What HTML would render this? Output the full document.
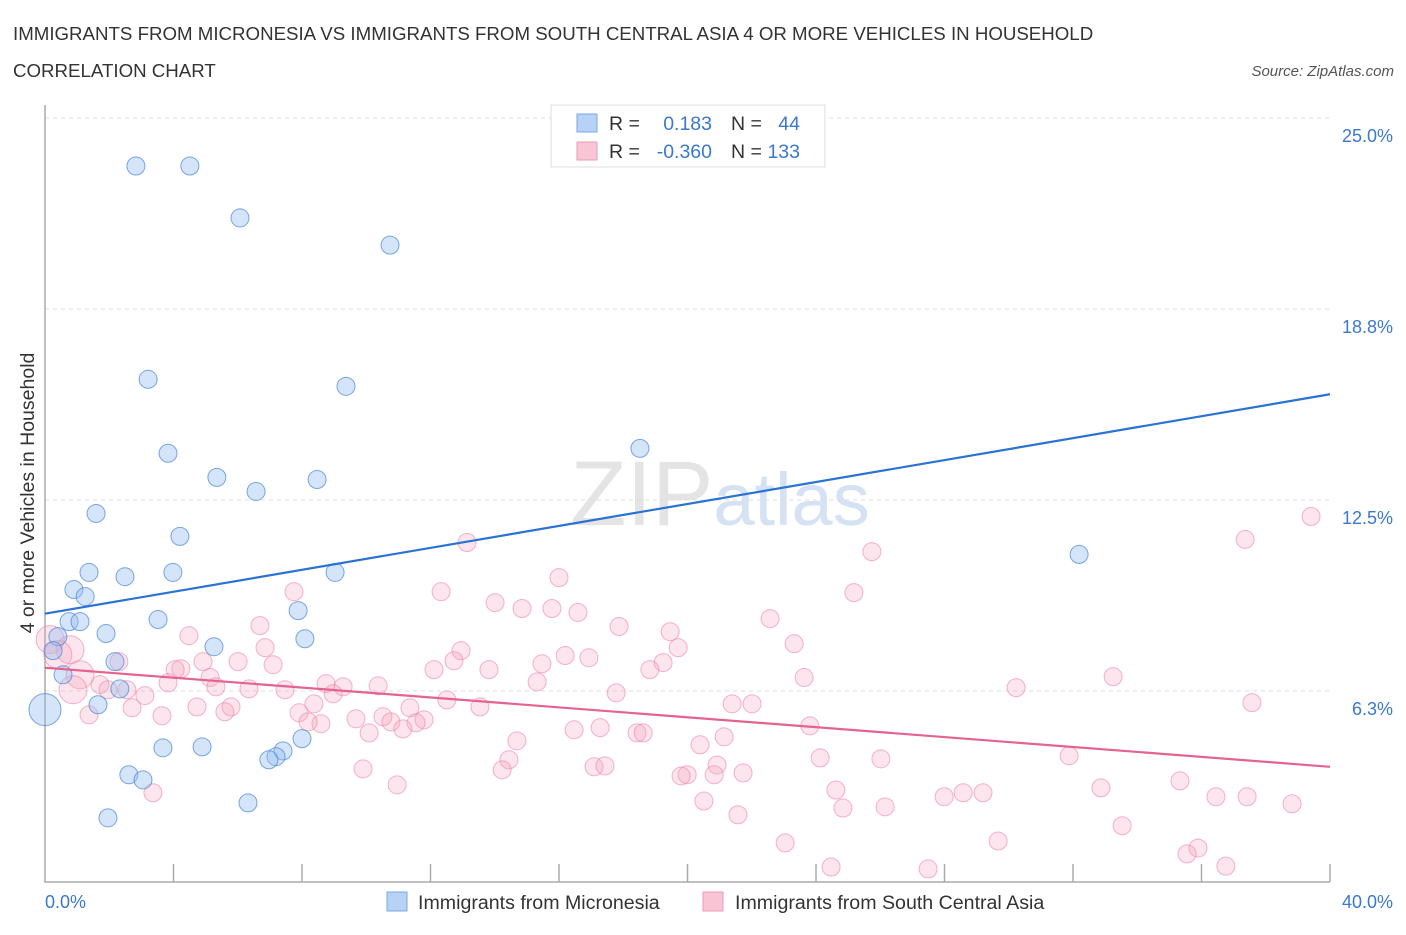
<!DOCTYPE html>
<html><head><meta charset="utf-8"><style>
body{margin:0;background:#fff;font-family:"Liberation Sans",sans-serif}
svg text{font-family:"Liberation Sans",sans-serif}
</style></head><body>
<svg id="chart" width="1406" height="930" xmlns="http://www.w3.org/2000/svg">
<text x="13" y="40" font-size="18.7" fill="#333">IMMIGRANTS FROM MICRONESIA VS IMMIGRANTS FROM SOUTH CENTRAL ASIA 4 OR MORE VEHICLES IN HOUSEHOLD</text>
<text x="13" y="77" font-size="18.7" fill="#333">CORRELATION CHART</text>
<text x="1394" y="76" font-size="15" fill="#555" font-style="italic" text-anchor="end">Source: ZipAtlas.com</text>
<text x="720" y="525" font-size="92" fill="#e4e4e4" text-anchor="middle" font-family="Liberation Serif">ZIP<tspan fill="#d4e2f3" font-family="Liberation Sans" font-size="74">atlas</tspan></text>
<g id="grid"></g>
<g id="axes"></g>
<g id="points"></g>
<g id="trends"></g>
<text transform="translate(34,493) rotate(-90)" font-size="19.5" fill="#333" text-anchor="middle">4 or more Vehicles in Household</text>
<g>
<rect x="551" y="105" width="274" height="62" fill="#fff" stroke="#ddd"/>
<rect x="577" y="114" width="20" height="18" fill="#b8d2f5" stroke="#7aa7e6"/>
<rect x="577" y="142" width="20" height="18" fill="#f8c5d4" stroke="#ec9ab4"/>
<text x="609" y="130" font-size="19.5" fill="#333">R =</text>
<text x="712" y="130" font-size="19.5" fill="#3b78d0" text-anchor="end">0.183</text>
<text x="731" y="130" font-size="19.5" fill="#333">N =</text>
<text x="800" y="130" font-size="19.5" fill="#3b78d0" text-anchor="end">44</text>
<text x="609" y="158" font-size="19.5" fill="#333">R =</text>
<text x="712" y="158" font-size="19.5" fill="#3b78d0" text-anchor="end">-0.360</text>
<text x="731" y="158" font-size="19.5" fill="#333">N =</text>
<text x="800" y="158" font-size="19.5" fill="#3b78d0" text-anchor="end">133</text>
</g>
<g>
<rect x="387" y="892" width="20" height="19" fill="#b8d2f5" stroke="#7aa7e6"/>
<text x="418" y="909" font-size="19.6" fill="#333">Immigrants from Micronesia</text>
<rect x="703" y="892" width="20" height="19" fill="#f8c5d4" stroke="#ec9ab4"/>
<text x="735" y="909" font-size="19.6" fill="#333">Immigrants from South Central Asia</text>
</g>
</svg>
<script>
const yTicks=[6.25,12.5,18.75,25];
const yTickLabels=["6.3%","12.5%","18.8%","25.0%"];
const xTickLabels=["0.0%","40.0%"];
const blueX=[2.83,4.51,6.07,10.74,3.21,9.37,3.83,18.52,5.35,6.57,8.47,1.59,4.20,32.19,1.37,2.49,3.98,9.03,0.90,1.25,0.75,1.09,3.52,7.88,1.90,0.40,8.09,5.26,2.18,0.25,0.56,2.33,1.65,0,3.67,4.89,8.00,7.41,7.19,6.97,2.61,3.05,6.32,1.96];
const blueY=[23.43,23.43,21.73,20.84,16.45,16.22,14.03,14.19,13.24,12.78,13.17,12.06,11.31,10.72,10.13,9.99,10.13,10.13,9.57,9.34,8.52,8.52,8.59,8.88,8.13,8.03,7.96,7.70,7.21,7.57,6.78,6.32,5.80,5.64,4.39,4.42,4.69,4.29,4.10,4.00,3.51,3.34,2.59,2.10];
const blueR=[9,9,9,9,9,9,9,9,9,9,9,9,9,9,9,9,9,9,9,9,9,9,9,9,9,9,9,9,9,9,9,9,9,16,9,9,9,9,9,9,9,9,9,9];
const pinkX=[39.41,37.36,13.14,25.74,16.00,7.75,12.33,25.18,14.01,14.85,15.78,16.59,22.57,17.87,6.69,4.48,19.46,23.32,19.71,6.85,12.95,16.19,16.93,12.73,15.47,19.24,18.83,12.11,13.82,4.23,4.05,4.92,6.01,7.10,2.30,0.78,1.09,0.16,0.40,33.25,23.63,15.32,8.75,10.37,9.28,5.14,5.32,6.35,7.47,3.83,1.71,1.96,2.55,3.11,0.87,17.78,30.23,8.97,37.57,12.51,21.39,22.01,8.37,13.54,4.73,5.79,7.91,11.36,2.71,3.64,1.37,5.60,9.68,10.52,11.80,8.59,8.19,10.77,11.55,10.09,11.14,16.47,17.28,23.81,18.43,18.62,14.69,21.14,20.39,14.44,24.13,26.02,31.88,20.92,9.90,14.23,17.09,17.43,19.99,19.80,20.83,21.73,35.33,10.96,3.36,24.62,32.87,27.99,28.58,29.20,36.45,37.42,20.51,24.84,26.15,38.82,21.57,33.53,29.67,23.04,35.89,35.55,24.47,27.49,36.76];
const pinkY=[11.96,11.21,11.11,10.81,9.96,9.50,9.50,9.47,9.14,8.95,8.95,8.82,8.62,8.36,8.39,8.06,8.19,7.80,7.67,7.67,7.57,7.41,7.34,7.24,7.14,7.18,6.95,6.95,6.95,6.98,6.95,7.21,7.21,7.11,7.21,7.60,6.78,7.93,7.44,6.72,6.69,6.55,6.49,6.42,6.39,6.69,6.39,6.32,6.29,6.52,6.46,6.29,6.29,6.10,6.29,6.19,6.36,6.16,5.87,5.96,5.83,5.83,5.83,5.73,5.73,5.73,5.54,5.70,5.70,5.44,5.47,5.57,5.34,5.41,5.31,5.18,5.24,5.24,5.21,4.88,5.01,4.98,5.05,5.11,4.88,4.88,4.62,4.75,4.49,4.00,4.06,4.03,4.13,3.83,3.70,3.67,3.77,3.80,3.51,3.47,3.51,3.57,3.31,3.18,2.92,3.01,3.08,2.79,2.92,2.92,2.79,2.79,2.65,2.42,2.46,2.56,2.20,1.84,1.34,1.28,1.11,0.92,0.49,0.43,0.52];
const pinkBig=[35,36,37,38,54];
const blueTrend=[8.78,15.96];
const pinkTrend=[7.01,3.77];
const X0=45,X1=1330,Y0=882,Y1=118,XMAX=40,YMAX=25;
const sx=v=>X0+v/XMAX*(X1-X0);
const sy=v=>Y0-v/YMAX*(Y0-Y1);
const NS="http://www.w3.org/2000/svg";
function mk(tag,attrs,parent){const e=document.createElementNS(NS,tag);for(const k in attrs)e.setAttribute(k,attrs[k]);parent.appendChild(e);return e;}
const grid=document.getElementById('grid'),axes=document.getElementById('axes'),pts=document.getElementById('points'),tr=document.getElementById('trends');
yTicks.forEach((t,i)=>{
 const l=mk('line',{x1:X0,x2:X1,y1:sy(t),y2:sy(t),stroke:'#ddd','stroke-dasharray':'4,4'},grid);
 
 
 const tx=mk('text',{x:1393,y:sy(t)+24,'font-size':18,fill:'#3b78d0','text-anchor':'end'},axes);
 tx.textContent=yTickLabels[i];
 
 
});
const ax=mk('path',{d:`M${X0} ${Y1-13}V${Y0}H${X1}`,stroke:'#aaa','stroke-width':1.5,fill:'none'},axes);


for(let i=1;i<=10;i++){
 const tk=mk('line',{x1:sx(i*4),x2:sx(i*4),y1:Y0-18,y2:Y0,stroke:'#aaa','stroke-width':1.5},axes);
 
 
}
const xl0=mk('text',{x:45,y:908,'font-size':18,fill:'#3b78d0'},axes);xl0.textContent=xTickLabels[0];


const xl1=mk('text',{x:1393,y:908,'font-size':18,fill:'#3b78d0','text-anchor':'end'},axes);xl1.textContent=xTickLabels[1];


pinkX.forEach((v,i)=>{
 const c=mk('circle',{cx:sx(v),cy:sy(pinkY[i]),r:pinkBig.includes(i)?14:9,fill:'rgba(244,160,186,0.28)',stroke:'rgba(236,130,162,0.6)','stroke-width':1},pts);
 
 
});
blueX.forEach((v,i)=>{
 const c=mk('circle',{cx:sx(v),cy:sy(blueY[i]),r:blueR[i],fill:'rgba(150,190,240,0.4)',stroke:'rgba(70,130,215,0.7)','stroke-width':1},pts);
 
 
});
const bl=mk('line',{x1:sx(0),x2:sx(40),y1:sy(blueTrend[0]),y2:sy(blueTrend[1]),stroke:'#2a72d4','stroke-width':2.2},tr);


const pl=mk('line',{x1:sx(0),x2:sx(40),y1:sy(pinkTrend[0]),y2:sy(pinkTrend[1]),stroke:'#e4638f','stroke-width':2.2},tr);


</script>
</body></html>
